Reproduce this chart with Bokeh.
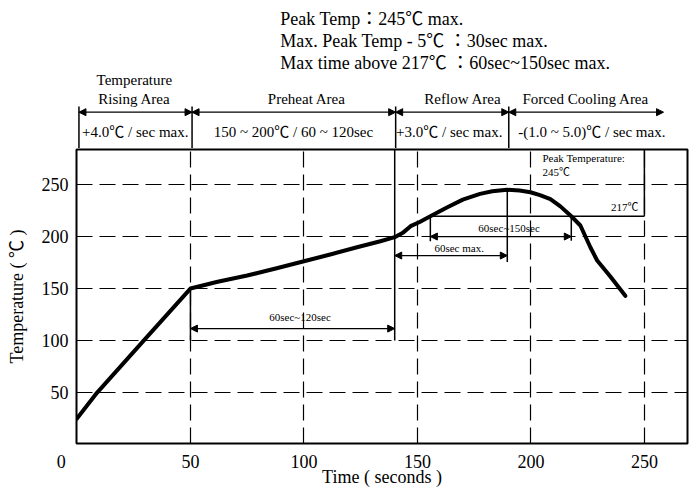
from bokeh.plotting import figure
from bokeh.layouts import column
from bokeh.models import Range1d, FixedTicker, Label, Arrow, NormalHead
from bokeh.embed import file_html
from bokeh.resources import INLINE

# ---------------- data ----------------
time_s = [0, 8.9, 29.4, 50, 62, 75, 88, 100, 112, 123.4, 133.7, 140, 143.8, 147,
          151, 155.7, 163, 170, 177.6, 183, 189.5, 195, 199.8, 204, 208.6, 213,
          217.8, 221.8, 226.2, 229.2, 235, 241.6]
temp_c = [25, 50, 100, 150, 156.5, 162.5, 169.5, 176.3, 183, 189.7, 195.5, 199.4, 204, 210,
          214, 219.5, 228, 235.5, 241, 243.5, 245, 244.2, 242.6, 239.8, 236, 229,
          219.5, 210.6, 189.7, 177, 161.5, 143]
x_ticks = [0, 50, 100, 150, 200, 250]
y_ticks = [50, 100, 150, 200, 250]
phase_bounds = [0, 50, 140, 190, 258.4]
phase_names = [["Temperature", "Rising Area"], ["Preheat Area"], ["Reflow Area"], ["Forced Cooling Area"]]
phase_rates = ["+4.0\u2103 / sec max.", "150 ~ 200\u2103 / 60 ~ 120sec",
               "+3.0\u2103  / sec max.", "-(1.0 ~ 5.0)\u2103 / sec max."]
spec_lines = ["Peak Temp\uff1a245\u2103 max.",
              "Max. Peak Temp - 5\u2103 \uff1a30sec max.",
              "Max time above 217\u2103  \uff1a60sec~150sec max."]
peak_time = 189.6
peak_temp = 245
liquidus_temp = 219.5
liquidus_cross = [155.7, 217.8]
preheat_window = [50, 140]
cooling_end_marker = 250

# ---------------- layout constants ----------------
FONT = "'Liberation Serif', 'Noto Sans CJK JP', serif"
X_START, X_END = -0.2, 269
Y_START, Y_END = 1, 283.7
HEAD_Y0, HEAD_Y1 = 284.6, 426.9
HEAD_TOP = 325
HEAD_ARROW_Y = 319.5


def make_helpers(fig):
    def seg(x0, y0, x1, y1, w=1.5):
        fig.segment(x0=[x0], y0=[y0], x1=[x1], y1=[y1], line_color="black", line_width=w)

    def darrow(x0, x1, y, w=1.3):
        fig.add_layout(Arrow(x_start=x0, y_start=y, x_end=x1, y_end=y,
                             start=NormalHead(size=7, fill_color="black", line_color="black", line_width=1),
                             end=NormalHead(size=7, fill_color="black", line_color="black", line_width=1),
                             line_color="black", line_width=w))

    def label(x, y, text, size, align="center"):
        fig.add_layout(Label(x=x, y=y, text=text, text_font=FONT, text_font_size=size,
                             text_align=align, text_baseline="middle", text_color="black"))
    return seg, darrow, label


# ---------------- header figure ----------------
h = figure(width=691, height=148, x_range=Range1d(X_START - 2 / 2.27, X_END), y_range=Range1d(HEAD_Y0, HEAD_Y1),
           output_backend="svg", toolbar_location=None, x_axis_location=None, y_axis_location=None,
           min_border_left=74, min_border_right=4, min_border_top=0, min_border_bottom=0)
h.outline_line_color = None
h.xgrid.visible = False
h.ygrid.visible = False
hseg, hdarrow, hlabel = make_helpers(h)

for b in phase_bounds[:4]:
    hseg(b, HEAD_Y0 - 2, b, HEAD_TOP)
for i in range(4):
    hdarrow(phase_bounds[i], phase_bounds[i + 1], HEAD_ARROW_Y)

name_x = [24.5, 100.7, 169.7, 224]
rate_x = [24.9, 94.8, 164.5, 226.7]
for i, names in enumerate(phase_names):
    if len(names) == 2:
        hlabel(name_x[i], 350.3, names[0], "15px")
        hlabel(name_x[i], 332.0, names[1], "15px")
    else:
        hlabel(name_x[i], 332.0, names[0], "15px")
    hlabel(rate_x[i], 300.7, phase_rates[i], "15px")

for s, yv in zip(spec_lines, [408.8, 388.0, 367.1]):
    hlabel(89, yv, s, "18px", align="left")

# ---------------- main figure ----------------
p = figure(width=691, height=344, x_range=Range1d(X_START, X_END), y_range=Range1d(Y_START, Y_END),
           output_backend="svg", toolbar_location=None,
           min_border_left=76, min_border_right=4, min_border_top=1, min_border_bottom=49)
p.background_fill_color = "white"
p.border_fill_color = "white"
p.outline_line_color = "black"
p.outline_line_width = 2

p.xaxis.ticker = FixedTicker(ticks=x_ticks)
p.xaxis.major_label_overrides = {0: "0" + "\u00a0" * 7}
p.yaxis.ticker = FixedTicker(ticks=y_ticks)
for ax in (p.xaxis[0], p.yaxis[0]):
    ax.axis_line_color = None
    ax.major_tick_line_color = None
    ax.minor_tick_line_color = None
    ax.major_tick_out = 0
    ax.major_tick_in = 0
    ax.major_label_text_font = FONT
    ax.major_label_text_font_size = "18px"
    ax.major_label_text_color = "black"
    ax.axis_label_text_font = FONT
    ax.axis_label_text_font_size = "18px"
    ax.axis_label_text_font_style = "normal"
    ax.axis_label_text_color = "black"
p.xaxis.major_label_standoff = 8
p.yaxis.major_label_standoff = 8
p.yaxis.axis_label = "Temperature ( \u2103 )"
p.yaxis.axis_label_standoff = 12
p.xaxis.axis_label = "Time ( seconds )"
p.xaxis.axis_label_standoff = -8

p.xgrid.ticker = FixedTicker(ticks=x_ticks[1:])
p.ygrid.ticker = FixedTicker(ticks=y_ticks)
for g in (p.xgrid[0], p.ygrid[0]):
    g.grid_line_color = "black"
    g.grid_line_alpha = 1
    g.grid_line_width = 1.2
    g.grid_line_dash = "16 7"

# profile curve
p.line(time_s, temp_c, line_color="black", line_width=4, line_join="round", line_cap="round")

seg, darrow, label = make_helpers(p)

seg(preheat_window[0], 100, preheat_window[0], 150)
seg(preheat_window[1], 100, preheat_window[1], Y_END + 2)
darrow(preheat_window[0], preheat_window[1], 111.5)
label(98.3, 122.4, "60sec~120sec", "11px")

seg(peak_time, 175.5, peak_time, peak_temp)
darrow(preheat_window[1], peak_time, 181.7)
label(168.4, 189, "60sec max.", "11px")

seg(liquidus_cross[0], liquidus_temp, cooling_end_marker, liquidus_temp)
seg(liquidus_cross[0], 195.5, liquidus_cross[0], liquidus_temp)
seg(liquidus_cross[1], 196, liquidus_cross[1], liquidus_temp)
seg(cooling_end_marker, liquidus_temp, cooling_end_marker, Y_END + 2)
darrow(liquidus_cross[0], liquidus_cross[1], 200)
label(190.4, 208.2, "60sec~150sec", "11px")
label(247.4, 228.6, "217\u2103", "11px", align="right")
label(205.1, 275.8, "Peak Temperature:", "11px", align="left")
label(205.1, 261.8, "245\u2103", "11px", align="left")

layout = column(h, p, spacing=0)
open("out.html", "w").write(file_html(layout, INLINE))
